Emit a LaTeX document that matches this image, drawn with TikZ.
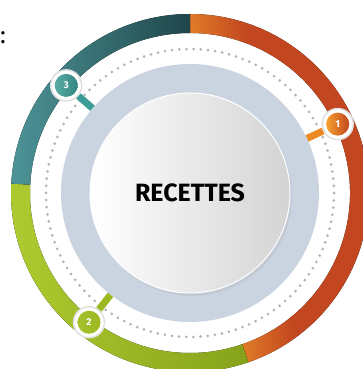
\documentclass[tikz,border=0pt]{standalone}
\usepackage{fontspec}
\setmainfont{Fira Sans}
\usetikzlibrary{calc,shadows}

\definecolor{ringorange}{HTML}{F6A02E}
\definecolor{ringred}{HTML}{C2461F}
\definecolor{ringgreen}{HTML}{AECB30}
\definecolor{ringolive}{HTML}{86A21A}
\definecolor{ringteal}{HTML}{4D9497}
\definecolor{ringdark}{HTML}{1F464A}
\definecolor{diskblue}{HTML}{CAD4E0}
\definecolor{dotgrey}{HTML}{ADB5BC}
\definecolor{stubA}{HTML}{EB8A22}
\definecolor{stubB}{HTML}{9CB823}
\definecolor{stubC}{HTML}{3C9D96}

\pgfdeclarehorizontalshading{orangering}{100bp}{color(0bp)=(ringorange); color(25bp)=(ringorange); color(48bp)=(ringred); color(100bp)=(ringred)}

\tikzset{
  stub/.style={line width=7pt},
  marker/.style={circle, fill=white, draw=black!12, line width=1.5pt, minimum size=31pt, inner sep=0pt},
  num/.style={circle, minimum size=23pt, inner sep=0pt, text=white, font=\bfseries\fontsize{10}{10}\selectfont},
}

\begin{document}
\begin{tikzpicture} [x=1pt, y=1pt]
  \useasboundingbox (0,0) rectangle (363,369);
  \clip (0,0) rectangle (363,369);
  \coordinate (c) at (190,176);

  % outer ring
  \fill [shading=orangering, shading angle=9] ($(c)+(90:179)$) arc [start angle=90, end angle=-71, radius=179]
     -- ($(c)+(-71:160)$) arc [start angle=-71, end angle=90, radius=160] -- cycle;
  \fill [left color=ringgreen, right color=ringolive] ($(c)+(-71:179)$) arc [start angle=-71, end angle=-183, radius=179]
     -- ($(c)+(177:160)$) arc [start angle=177, end angle=289, radius=160] -- cycle;
  \fill [left color=ringteal, right color=ringdark] ($(c)+(177:179)$) arc [start angle=177, end angle=90, radius=179]
     -- ($(c)+(90:160)$) arc [start angle=90, end angle=177, radius=160] -- cycle;

  \draw [dotgrey, line width=3pt, line cap=round, dash pattern=on 0pt off 7.18pt] (c) circle [radius=144];

  \path (c) node [circle, fill=diskblue, minimum size=258pt] (disk) {}
        node [circle, draw=white, line width=1pt, left color=white, right color=black!17, minimum size=200pt,
              drop shadow={shadow xshift=2pt, shadow yshift=-3pt, opacity=0.12},
              font=\bfseries\fontsize{25}{25}\selectfont] (rec) {RECETTES};

  \path (c) +(25:163)  node [marker] (m1) {} node [num, left color=ringorange, right color=ringred] {1}
            +(232:164) node [marker] (m2) {} node [num, left color=ringgreen!95!black, right color=stubB] {2}
            +(139:164) node [marker] (m3) {} node [num, left color=stubC!85!white, right color=stubC!85!black] {3};

  \draw [-, stub, stubA] (m1) to (disk);
  \draw [-, stub, stubB] (m2) to (disk);
  \draw [-, stub, stubC] (m3) to (disk);

  \node [anchor=west, inner sep=0pt, font=\fontsize{24}{24}\selectfont] (cut) at (0,331) {:};
\end{tikzpicture}
\end{document}
